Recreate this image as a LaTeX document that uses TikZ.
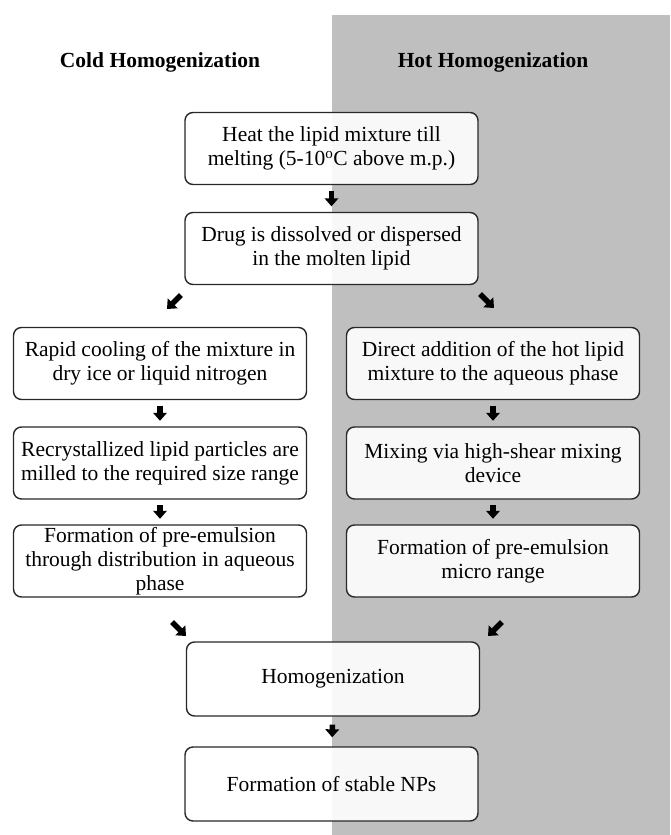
\documentclass[tikz,border=0pt]{standalone}
\usepackage{fontspec}
\setmainfont{Liberation Serif}
\usepackage{xcolor}
\usepackage{tikz}
\usetikzlibrary{arrows.meta}

\definecolor{panelgray}{RGB}{191,191,191}
\definecolor{edgegray}{RGB}{40,40,40}

\begin{document}
\begin{tikzpicture}[x=1pt, y=-1pt,
  box/.style={draw=edgegray, line width=1.4pt, rounded corners=8pt, fill=white, fill opacity=0.9, text opacity=1,
    align=center, minimum width=293pt, minimum height=72pt, inner sep=0pt, font=\fontsize{21.5}{24}\selectfont},
  head/.style={font=\bfseries\fontsize{21.5}{24}\selectfont},
  blk/.style={line width=5.5pt, -{Triangle[width=13.5pt, length=8pt]}, shorten <=5.5pt, shorten >=5.5pt}]

\useasboundingbox (0,0) rectangle (670,835);
\fill[panelgray] (332,15) rectangle (670,835);

\node[head] (cold) at (160,62) {Cold Homogenization};
\node[head] (hot) at (493,62) {Hot Homogenization};

\node[box] (1) at (331.5,148.5) {Heat the lipid mixture till\\melting (5-10\textsuperscript{o}C above m.p.)};
\node[box] (2) at (331.5,248.5) {Drug is dissolved or dispersed\\in the molten lipid};

\node[box] (3) at (160,363.5) {Rapid cooling of the mixture in\\dry ice or liquid nitrogen};
\node[box] (4) at (160,463) {Recrystallized lipid particles are\\milled to the required size range};
\node[box] (5) at (160,561) {Formation of pre-emulsion\\through distribution in aqueous\\phase};

\node[box] (6) at (493,363.5) {Direct addition of the hot lipid\\mixture to the aqueous phase};
\node[box] (7) at (493,463) {Mixing via high-shear mixing\\device};
\node[box] (8) at (493,561) {Formation of pre-emulsion\\micro range};

\node[box, minimum height=74pt] (9) at (333,679) {Homogenization};
\node[box, minimum height=74pt] (10) at (331.5,784) {Formation of stable NPs};

% split and merge arrows
\coordinate (s1) at (181,295);
\coordinate (e1) at (167,309);
\coordinate (s2) at (480,294);
\coordinate (e2) at (494,308);
\coordinate (s3) at (172,622);
\coordinate (e3) at (186,636);
\coordinate (s4) at (502,622);
\coordinate (e4) at (488,636);

\path[draw, blk] (1) -- (2);
\path[draw, blk] (3) -- (4);
\path[draw, blk] (4) -- (5);
\path[draw, blk] (6) -- (7);
\path[draw, blk] (7) -- (8);
\path[draw, blk, shorten <=8pt, shorten >=9pt] (9) -- (10);
\path[draw, blk, shorten <=0pt, shorten >=0pt] (s1) -- (e1);
\path[draw, blk, shorten <=0pt, shorten >=0pt] (s2) -- (e2);
\path[draw, blk, shorten <=0pt, shorten >=0pt] (s3) -- (e3);
\path[draw, blk, shorten <=0pt, shorten >=0pt] (s4) -- (e4);

\end{tikzpicture}
\end{document}
